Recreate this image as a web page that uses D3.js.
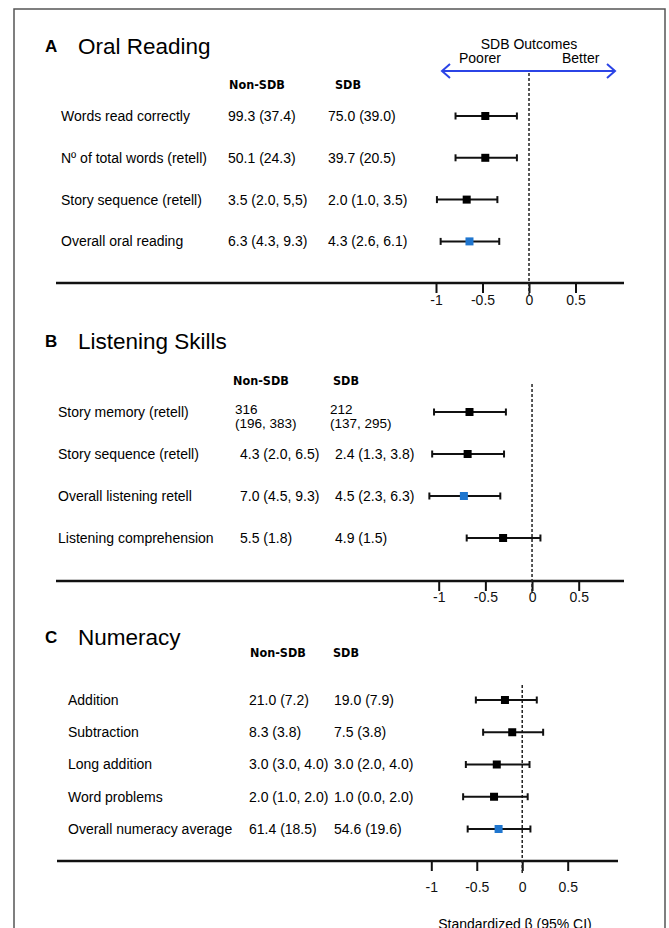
<!DOCTYPE html>
<html>
<head>
<meta charset="utf-8">
<script src="https://cdn.jsdelivr.net/npm/d3@7"></script>
<style>
body{margin:0;background:#fff}
svg{display:block;font-family:"Liberation Sans",Arial,sans-serif}
</style>
</head>
<body>
<svg width="669" height="928"></svg>
<script>
// tick values shared by the three panels
var ticks = [-1, -0.5, 0, 0.5]
var tickLabels = ['-1', '-0.5', '0', '0.5']
var colHeads = ['Non-SDB', 'SDB']

// A  oral reading
var oralLabels = ['Words read correctly', 'N\u00ba of total words (retell)', 'Story sequence (retell)', 'Overall oral reading']
var oralNon = ['99.3 (37.4)', '50.1 (24.3)', '3.5 (2.0, 5,5)', '6.3 (4.3, 9.3)']
var oralSdb = ['75.0 (39.0)', '39.7 (20.5)', '2.0 (1.0, 3.5)', '4.3 (2.6, 6.1)']
var oralBeta = [-0.47, -0.47, -0.67, -0.64]
var oralLo = [-0.79, -0.79, -0.99, -0.95]
var oralHi = [-0.13, -0.13, -0.34, -0.32]
var oralOverall = [false, false, false, true]

// B  listening skills
var listenLabels = ['Story memory (retell)', 'Story sequence (retell)', 'Overall listening retell', 'Listening comprehension']
var listenNon = ['316\n(196, 383)', '4.3 (2.0, 6.5)', '7.0 (4.5, 9.3)', '5.5 (1.8)']
var listenSdb = ['212\n(137, 295)', '2.4 (1.3, 3.8)', '4.5 (2.3, 6.3)', '4.9 (1.5)']
var listenBeta = [-0.67, -0.69, -0.73, -0.31]
var listenLo = [-1.05, -1.07, -1.10, -0.70]
var listenHi = [-0.28, -0.30, -0.34, 0.09]
var listenOverall = [false, false, true, false]

// C  numeracy
var numLabels = ['Addition', 'Subtraction', 'Long addition', 'Word problems', 'Overall numeracy average']
var numNon = ['21.0 (7.2)', '8.3 (3.8)', '3.0 (3.0, 4.0)', '2.0 (1.0, 2.0)', '61.4 (18.5)']
var numSdb = ['19.0 (7.9)', '7.5 (3.8)', '3.0 (2.0, 4.0)', '1.0 (0.0, 2.0)', '54.6 (19.6)']
var numBeta = [-0.19, -0.11, -0.28, -0.31, -0.26]
var numLo = [-0.51, -0.43, -0.62, -0.65, -0.60]
var numHi = [0.16, 0.23, 0.08, 0.06, 0.09]
var numOverall = [false, false, false, false, true]

var svg = d3.select('svg')

// outer frame (runs off the bottom of the page)
svg.append('rect').attr('x', 14).attr('y', 9).attr('width', 651).attr('height', 960)
  .attr('fill', 'none').attr('stroke', '#555').attr('stroke-width', 1.5)

function drawPanel(p) {
  var g = svg.append('g')
  var x = d3.scaleLinear().domain([-1, 0.5]).range(p.range)
  var y = function(i) { return p.row0 + i * p.step }

  g.append('text').attr('x', 45).attr('y', p.titleY).attr('dy', '0.35em')
    .attr('font-size', 17).attr('font-weight', 'bold').text(p.letter)
  g.append('text').attr('x', 78).attr('y', p.titleY).attr('dy', '0.35em')
    .attr('font-size', 22.5).text(p.title)

  g.selectAll('.head').data(colHeads).enter().append('text')
    .attr('x', function(d, i) { return p.headX[i] }).attr('y', p.headY).attr('dy', '0.35em')
    .attr('font-family', '"DejaVu Sans Condensed","DejaVu Sans",sans-serif')
    .attr('font-weight', 'bold').attr('font-size', 12.5).text(function(d) { return d })

  g.selectAll('.lab').data(p.labels).enter().append('text')
    .attr('x', p.labelX).attr('y', function(d, i) { return y(i) }).attr('dy', '0.35em')
    .attr('font-size', 14).text(function(d) { return d })

  // value columns; a two line entry is split into separate texts
  ;[p.non, p.sdb].forEach(function(col, c) {
    col.forEach(function(d, i) {
      var parts = d.split('\n')
      parts.forEach(function(s, k) {
        g.append('text').attr('font-size', parts.length > 1 ? 13.5 : 14)
          .attr('x', parts.length > 1 ? p.valX[c] - 5 : p.valX[c])
          .attr('y', y(i) - (parts.length > 1 ? 3 : 0) + k * 14.5).attr('dy', '0.35em').text(s)
      })
    })
  })

  // axis
  g.append('line').attr('x1', p.axisX[0]).attr('x2', p.axisX[1])
    .attr('y1', p.axisY).attr('y2', p.axisY).attr('stroke', '#111').attr('stroke-width', 2.7)
  var ax = g.append('g').attr('transform', 'translate(0,' + p.axisY + ')')
    .call(d3.axisBottom(x).tickValues(ticks).tickSize(10).tickPadding(p.pad)
      .tickFormat(function(d, i) { return tickLabels[i] }))
  ax.select('.domain').remove()
  ax.selectAll('line').attr('stroke', '#111').attr('stroke-width', 2)
  ax.selectAll('text').attr('font-size', 14).attr('font-family', '"Liberation Sans",Arial,sans-serif').attr('fill', '#111')

  // null line
  g.append('line').attr('x1', x(0)).attr('x2', x(0)).attr('y1', p.dash[0]).attr('y2', p.dash[1])
    .attr('stroke', '#222').attr('stroke-width', 1.5).attr('stroke-dasharray', '3,2')

  // estimates
  var rows = g.selectAll('.est').data(p.beta).enter().append('g')
  rows.append('line').attr('x1', function(d, i) { return x(p.lo[i]) }).attr('x2', function(d, i) { return x(p.hi[i]) })
    .attr('y1', function(d, i) { return y(i) }).attr('y2', function(d, i) { return y(i) })
    .attr('stroke', '#111').attr('stroke-width', 2)
  ;[p.lo, p.hi].forEach(function(arr) {
    rows.append('line').attr('x1', function(d, i) { return x(arr[i]) }).attr('x2', function(d, i) { return x(arr[i]) })
      .attr('y1', function(d, i) { return y(i) - 3.5 }).attr('y2', function(d, i) { return y(i) + 3.5 })
      .attr('stroke', '#111').attr('stroke-width', 2)
  })
  rows.append('rect').attr('x', function(d) { return x(d) - 4 }).attr('y', function(d, i) { return y(i) - 4 })
    .attr('width', 8).attr('height', 8)
    .attr('fill', function(d, i) { return p.overall[i] ? '#1f76cf' : '#000' })
}

drawPanel({letter: 'A', title: 'Oral Reading', titleY: 46, headY: 85, headX: [229, 335],
  row0: 116, step: 41.8, labelX: 61, valX: [228, 328],
  labels: oralLabels, non: oralNon, sdb: oralSdb, beta: oralBeta, lo: oralLo, hi: oralHi, overall: oralOverall,
  range: [436, 575.5], axisY: 283, axisX: [56, 624], pad: 2, dash: [73, 296]})

drawPanel({letter: 'B', title: 'Listening Skills', titleY: 341, headY: 381, headX: [233, 333],
  row0: 412, step: 42, labelX: 58, valX: [240, 335],
  labels: listenLabels, non: listenNon, sdb: listenSdb, beta: listenBeta, lo: listenLo, hi: listenHi, overall: listenOverall,
  range: [438.7, 578.7], axisY: 581, axisX: [56, 624], pad: 1, dash: [384, 593]})

drawPanel({letter: 'C', title: 'Numeracy', titleY: 637, headY: 653, headX: [250, 333],
  row0: 700, step: 32.25, labelX: 68, valX: [249, 334],
  labels: numLabels, non: numNon, sdb: numSdb, beta: numBeta, lo: numLo, hi: numHi, overall: numOverall,
  range: [431.3, 567.7], axisY: 861, axisX: [57, 618], pad: 11, dash: [685, 875]})

// direction legend
var blue = '#2b44e6'
svg.append('text').attr('x', 529).attr('y', 44).attr('dy', '0.35em').attr('text-anchor', 'middle')
  .attr('font-size', 14).text('SDB Outcomes')
svg.append('text').attr('x', 459).attr('y', 58).attr('dy', '0.35em').attr('font-size', 14).text('Poorer')
svg.append('text').attr('x', 562).attr('y', 58).attr('dy', '0.35em').attr('font-size', 14).text('Better')
svg.append('line').attr('x1', 442).attr('x2', 615).attr('y1', 71).attr('y2', 71)
  .attr('stroke', blue).attr('stroke-width', 2)
svg.append('path').attr('d', 'M450,64L442,71L450,78M607,64L615,71L607,78')
  .attr('fill', 'none').attr('stroke', blue).attr('stroke-width', 2)

// axis title, cut by the lower edge as in the source
svg.append('text').attr('x', 515).attr('y', 929).attr('text-anchor', 'middle')
  .attr('font-size', 14).text('Standardized \u03b2 (95% CI)')
</script>
</body>
</html>
